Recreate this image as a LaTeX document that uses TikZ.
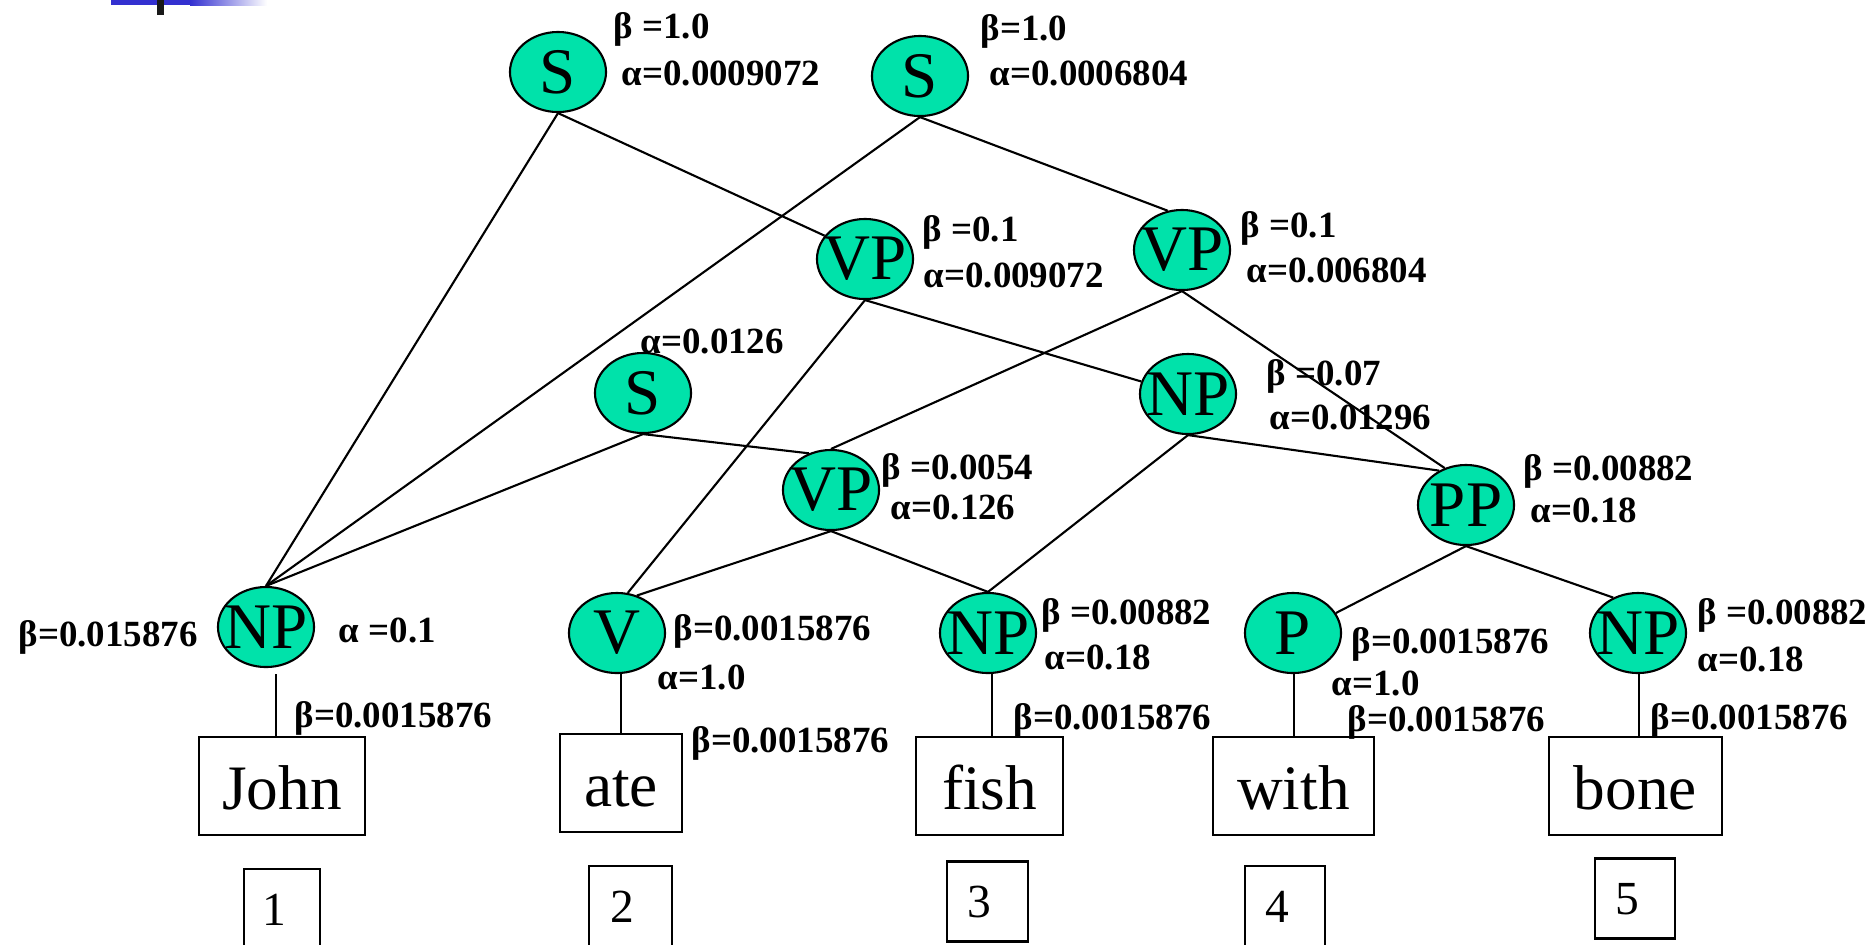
\documentclass[tikz,border=0pt]{standalone}
\usepackage{fontspec}
\setmainfont{Liberation Serif}
\usetikzlibrary{shapes.geometric}
\definecolor{nodegreen}{RGB}{0,226,170}
\definecolor{barblue}{RGB}{51,48,208}
\begin{document}
\begin{tikzpicture}[x=0.01cm,y=-0.01cm,
  cat/.style={ellipse,draw=black,line width=0.6pt,fill=nodegreen,minimum width=0.96cm,minimum height=0.80cm,inner sep=0pt},
  cattext/.style={font=\fontsize{18.5}{20}\selectfont,inner sep=0pt},
  lab/.style={anchor=base west,inner sep=0pt,font=\fontsize{10.5}{12}\selectfont\bfseries},
  word/.style={draw=black,line width=0.6pt,inner sep=0pt,minimum height=0.98cm,font=\fontsize{18}{20}\selectfont,text height=0.46cm,text depth=0pt},
  numbox/.style={draw=black,line width=0.6pt,inner sep=0pt,minimum height=0.8cm,font=\fontsize{13.5}{15}\selectfont,text height=0.32cm,text depth=0pt},
  conn/.style={line width=0.6pt}]
\useasboundingbox (0,0) rectangle (1875,944);
\clip (0,0) rectangle (1875,944);
% top-left decoration
\fill[barblue] (111,0) rectangle (190,5);
\shade[left color=barblue,right color=white] (190,0) rectangle (267,5);
\fill[black!90] (157,0) rectangle (164,15);
% category nodes
\node[cat,label={[cattext]center:S}] (S1) at (558,72) {};
\node[cat,label={[cattext]center:S}] (S2) at (920,76) {};
\node[cat,label={[cattext]center:VP}] (VP1) at (865,259) {};
\node[cat,label={[cattext]center:VP}] (VP2) at (1182,250) {};
\node[cat,label={[cattext]center:S}] (S3) at (643,393) {};
\node[cat,label={[cattext]center:NP}] (NP2) at (1188,394) {};
\node[cat,label={[cattext]center:VP}] (VP3) at (831,490) {};
\node[cat,label={[cattext]center:PP}] (PP) at (1466,505) {};
\node[cat,label={[cattext]center:NP}] (NP1) at (266,627) {};
\node[cat,label={[cattext]center:V}] (V) at (617,633) {};
\node[cat,label={[cattext]center:NP}] (NP3) at (988,633) {};
\node[cat,label={[cattext]center:P}] (P) at (1293,633) {};
\node[cat,label={[cattext]center:NP}] (NP5) at (1638,633) {};
% word boxes
\node[word,minimum width=1.66cm] (john) at (282,786) {John};
\node[word,minimum width=1.22cm] (ate) at (621,783) {ate};
\node[word,minimum width=1.47cm] (fish) at (989.5,786) {fish};
\node[word,minimum width=1.61cm] (with) at (1293.5,786) {with};
\node[word,minimum width=1.73cm] (bone) at (1635.5,786) {bone};
% number boxes
\node[numbox,minimum width=0.76cm] (n1) at (282,909) {1\kern0.16cm};
\node[numbox,minimum width=0.83cm] (n2) at (630.5,906) {2\kern0.16cm};
\node[numbox,minimum width=0.81cm] (n3) at (987.5,901.5) {3\kern0.16cm};
\node[numbox,minimum width=0.80cm] (n4) at (1285,906) {4\kern0.16cm};
\node[numbox,minimum width=0.80cm] (n5) at (1635,898.5) {5\kern0.16cm};
% connectors
\draw[conn] (S1.south) -- (NP1.north);
\draw[conn] (S1.south) -- (VP1.150);
\draw[conn] (S2.south) -- (NP1.north);
\draw[conn] (S2.south) -- (VP2.110);
\draw[conn] (VP1.south) -- (V.75);
\draw[conn] (VP1.south) -- (NP2.165);
\draw[conn] (VP2.south) -- (VP3.north);
\draw[conn] (VP2.south) -- (PP.120);
\draw[conn] (S3.south) -- (NP1.north);
\draw[conn] (S3.south) -- (VP3.121);
\draw[conn] (NP2.south) -- (NP3.north);
\draw[conn] (NP2.south) -- (PP.128);
\draw[conn] (VP3.south) -- (V.62);
\draw[conn] (VP3.south) -- (NP3.north);
\draw[conn] (PP.south) -- (P.25);
\draw[conn] (PP.south) -- (NP5.125);
\draw[conn] ([xshift=0.10cm,yshift=-0.06cm]NP1.south) -- ([xshift=0.10cm]NP1.south |- john.north);
\draw[conn] ([xshift=0.04cm]V.south) -- ([xshift=0.04cm]V.south |- ate.north);
\draw[conn] ([xshift=0.04cm]NP3.south) -- ([xshift=0.04cm]NP3.south |- fish.north);
\draw[conn] ([xshift=0.01cm]P.south) -- ([xshift=0.01cm]P.south |- with.north);
\draw[conn] ([xshift=0.01cm]NP5.south) -- ([xshift=0.01cm]NP5.south |- bone.north);
% labels
\node[lab] (l1) at (613,38) {β =1.0};
\node[lab] (l2) at (621,85) {α=0.0009072};
\node[lab] (l3) at (980,40) {β=1.0};
\node[lab] (l4) at (989,85) {α=0.0006804};
\node[lab] (l5) at (922,241) {β =0.1};
\node[lab] (l6) at (923,287) {α=0.009072};
\node[lab] (l7) at (1240,237) {β =0.1};
\node[lab] (l8) at (1246,282) {α=0.006804};
\node[lab] (l9) at (640,353) {α=0.0126};
\node[lab] (l10) at (1266,385) {β =0.07};
\node[lab] (l11) at (1269,429) {α=0.01296};
\node[lab] (l12) at (881,479) {β =0.0054};
\node[lab] (l13) at (890,519) {α=0.126};
\node[lab] (l14) at (1523,480) {β =0.00882};
\node[lab] (l15) at (1530,522) {α=0.18};
\node[lab] (l16) at (18,646) {β=0.015876};
\node[lab] (l17) at (338,642) {α =0.1};
\node[lab] (l18) at (294,727) {β=0.0015876};
\node[lab] (l19) at (673,640) {β=0.0015876};
\node[lab] (l20) at (657,689) {α=1.0};
\node[lab] (l21) at (691,752) {β=0.0015876};
\node[lab] (l22) at (1041,624) {β =0.00882};
\node[lab] (l23) at (1044,669) {α=0.18};
\node[lab] (l24) at (1013,729) {β=0.0015876};
\node[lab] (l25) at (1351,653) {β=0.0015876};
\node[lab] (l26) at (1331,695) {α=1.0};
\node[lab] (l27) at (1347,731) {β=0.0015876};
\node[lab] (l28) at (1697,624) {β =0.00882};
\node[lab] (l29) at (1697,671) {α=0.18};
\node[lab] (l30) at (1650,729) {β=0.0015876};
\end{tikzpicture}
\end{document}
